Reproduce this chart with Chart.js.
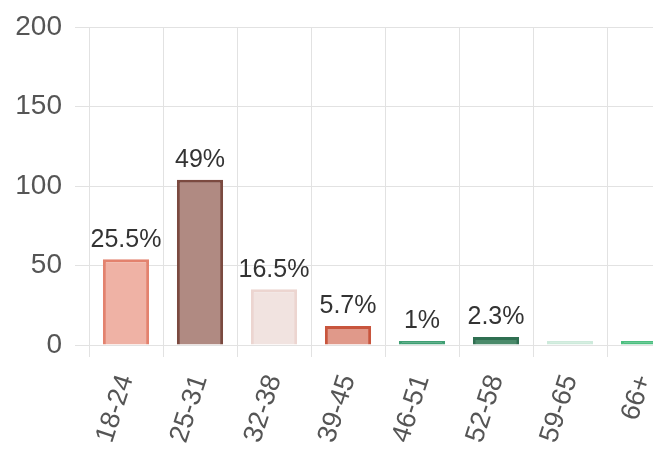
<!DOCTYPE html>
<html>
<head>
<meta charset="utf-8">
<script src="https://cdn.jsdelivr.net/npm/chart.js@4/dist/chart.umd.min.js"></script>
<style>
  html, body { margin: 0; padding: 0; background: #fff; overflow: hidden; }
  #wrap { width: 684px; height: 459px; }
</style>
</head>
<body>
<div id="wrap"><canvas id="ageChart" width="684" height="459"></canvas></div>
<script>
// --- DATA ---
const ageGroups = ['18-24', '25-31', '32-38', '39-45', '46-51', '52-58', '59-65', '66+'];
const counts = [54, 104, 35, 12, 2, 5, 0, 0];
const percentLabels = ['25.5%', '49%', '16.5%', '5.7%', '1%', '2.3%', '', ''];
const yTicks = [0, 50, 100, 150, 200];

const fillColors = ['#efb2a5', '#b08a82', '#f1e3e0', '#e0998a', '#3f9f73', '#4a8a6a', '#cdeadb', '#4cbf80'];
const borderColors = ['#e3826e', '#7b4a40', '#ecd5d0', '#c8553d', '#3f9f73', '#2f6f51', '#cdeadb', '#4cbf80'];

const FONT = "'Liberation Sans', Arial, Helvetica, sans-serif";

// draws the percent text above each bar
const percentLabelPlugin = {
    id: 'percentLabels',
    afterDatasetsDraw(chart) {
        const ctx = chart.ctx;
        const meta = chart.getDatasetMeta(0);
        ctx.save();
        ctx.font = '25px ' + FONT;
        ctx.fillStyle = '#333';
        ctx.textAlign = 'center';
        ctx.textBaseline = 'bottom';
        meta.data.forEach((bar, i) => {
            if (!percentLabels[i]) return;
            ctx.fillText(percentLabels[i], bar.x, bar.y - 7);
        });
        ctx.restore();
    }
};

new Chart(document.getElementById('ageChart').getContext('2d'), {
    type: 'bar',
    data: {
        labels: ageGroups,
        datasets: [{
            data: counts,
            backgroundColor: fillColors,
            borderColor: borderColors,
            borderWidth: 3,
            minBarLength: 4,
            barPercentage: 0.78,
            categoryPercentage: 0.8
        }]
    },
    options: {
        responsive: false,
        animation: false,
        layout: { padding: { top: 27, right: 3, left: 0, bottom: 0 } },
        plugins: {
            legend: { display: false },
            tooltip: { enabled: false }
        },
        scales: {
            x: {
                grid: { color: '#e2e2e2', tickLength: 12 },
                border: { color: '#e2e2e2' },
                ticks: {
                    color: '#555',
                    font: { size: 27, family: FONT },
                    minRotation: 72,
                    maxRotation: 72,
                    padding: 14
                },
                afterFit(scale) {
                    scale.height = 114;
                    scale.paddingLeft = 0;
                    scale.paddingRight = 0;
                }
            },
            y: {
                min: 0,
                max: 200,
                grid: { color: '#e2e2e2', tickLength: 14 },
                border: { color: '#e2e2e2' },
                afterBuildTicks(scale) { scale.ticks = yTicks.map(v => ({ value: v })); },
                ticks: {
                    color: '#555',
                    font: { size: 28, family: FONT },
                    padding: 13
                },
                afterFit(scale) {
                    scale.width = 89;
                    scale.paddingTop = 0;
                    scale.paddingBottom = 0;
                }
            }
        }
    },
    plugins: [percentLabelPlugin]
});
</script>
</body>
</html>
